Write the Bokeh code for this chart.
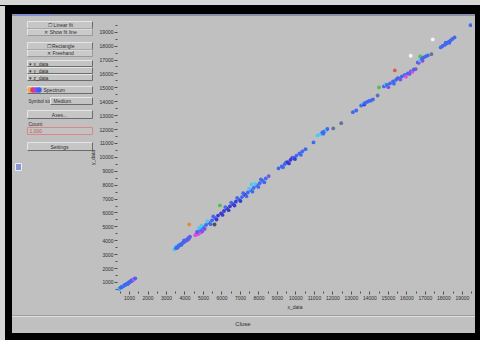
from bokeh.plotting import figure
from bokeh.models import Range1d, FixedTicker, ColumnDataSource, Div
from bokeh.layouts import column, row
from bokeh.embed import file_html
from bokeh.resources import INLINE
from bokeh.core.properties import value
from bokeh.transform import factor_cmap

# ---------------- data ----------------
# colour class of each point (z): b blue, d deep blue, c cyan, m magenta, p purple,
# g green, r red, o orange, w white, s slate, k dark grey
x_vals = [
    # cluster near the origin
    400, 440, 480, 520, 560, 600, 640, 680, 700, 720, 760, 800, 840, 880, 900, 920, 960,
    1000, 1040, 1080, 1100, 1120, 1160, 1200, 1240, 1280, 1310,
    # second cluster
    3420, 3470, 3500, 3520, 3570, 3600, 3620, 3650, 3670, 3720, 3770, 3800, 3820, 3870,
    3920, 3950, 3970, 4020, 4070, 4100, 4120, 4170, 4200, 4220, 4250, 4270,
    4230, 5600,
    # long dense band
    4560, 4600, 4650, 4700, 4750, 4850, 4900, 4950, 5070,
    4660, 4820, 4980, 5140, 5300, 5460, 5620, 5790, 5950, 6110, 6270, 6430, 6590, 6750,
    6910, 7080, 7240, 7400, 7560, 7720, 7880, 8040, 8200, 8370, 8530,
    5390, 5710, 6030, 6360, 6680, 7000, 7330, 7650, 7970, 8290,
    4760, 4890, 5210, 5530, 5890, 6180, 6500, 6820, 7150, 7470, 7600, 7790, 8110,
    # cluster around 10000
    9060, 9230, 9300, 9390, 9470, 9550, 9620, 9710, 9800, 9870, 9950, 10030, 10190,
    10270, 10350, 10520,
    10950, 11160, 11320, 11430, 11480, 11540, 11650, 11700, 12020, 12450,
    # cluster around 13500
    13080, 13260, 13530, 13630, 13700, 13740, 13850, 13960, 14060, 14170,
    14420, 14490,
    # cluster around 15500
    14760, 14850, 14920, 15000, 15090, 15250, 15300, 15410, 15500, 15570, 15650, 15730,
    15890, 15950, 16050, 16150, 16210, 16300, 16380,
    15350, 16480, 16210,
    # cluster around 17000
    16590, 16650, 16700, 16720, 16810, 16850, 16910, 17020, 17130,
    17330, 17400,
    # cluster around 18200
    17830, 17930, 18040, 18100, 18150, 18260, 18300, 18360, 18470, 18580,
    19440,
]
y_vals = [
    500, 560, 580, 620, 660, 690, 720, 760, 820, 790, 830, 850, 890, 920, 880, 950, 1000,
    1020, 1060, 1090, 1150, 1130, 1160, 1200, 1230, 1270, 1300,
    3380, 3440, 3560, 3470, 3540, 3500, 3580, 3720, 3640, 3680, 3740, 3700, 3780, 3840,
    3880, 4020, 3940, 3990, 4050, 4020, 4100, 4150, 4120, 4220, 4300, 4280,
    5170, 5170,
    4400, 4450, 4600, 4480, 4520, 4600, 4640, 4700, 4860,
    4630, 4800, 4970, 5140, 5300, 5470, 5640, 5810, 5970, 6140, 6310, 6480, 6640, 6810,
    6970, 7140, 7310, 7480, 7640, 7810, 7980, 8140, 8310, 8480, 8650,
    5190, 5530, 5860, 6200, 6530, 6860, 7200, 7530, 7870, 8200,
    4920, 5080, 5410, 5750, 6540, 6420, 6750, 7080, 7420, 7750, 8050, 8090, 8420,
    9200, 9350, 9280, 9510, 9640, 9660, 9560, 9820, 9960, 9970, 9880, 10130, 10280,
    10180, 10430, 10590,
    11070, 11580, 11650, 11790, 11700, 11860, 11940, 12040, 12080, 12460,
    13250, 13370, 13730, 13880, 13800, 13910, 13990, 14060, 14090, 14170,
    14450, 15030,
    15100, 15250, 15210, 15050, 15320, 15460, 15300, 15570, 15700, 15680, 15600, 15820,
    15930, 15800, 16040, 16000, 16180, 16150, 16320,
    16250, 16350, 17310,
    16830, 16800, 16970, 17260, 17080, 16950, 17190, 17260, 17330,
    17420, 18480,
    17910, 18010, 18090, 18250, 18190, 18300, 18240, 18410, 18520, 18630,
    19510,
]
z_vals = (
    list("cbcbbbbbcbbbbbbbbbbbbbpbmmb")
    + list("cccbbbbcbbbbbbbbbbbpbbpbmb")
    + list("ok")
    + list("mmmmmmmpp")
    + list("bbbbbbbdddddddbbdbbbbbbbp")
    + list("bdddddbbbb")
    + list("cccbgbbbbcccb")
    + list("bbbbbddddbdbbbbb")
    + list("bccbbbcbss")
    + list("bbbcdbbbbb")
    + list("sg")
    + list("bcbpbbbbbbpbbmbpbmb")
    + list("rpw")
    + list("bpcgbpbbb")
    + list("sw")
    + list("bbbbbbbbbb")
    + list("b")
)
z_levels = ["b", "d", "c", "m", "p", "g", "r", "o", "w", "s", "k"]
z_palette = ["#4068f0", "#3a3ad2", "#50c8f0", "#e048e8", "#8050e0", "#50c050",
             "#e05a40", "#e08a50", "#f6f6f6", "#6070a0", "#505058"]

x_ticks = [1000, 2000, 3000, 4000, 5000, 6000, 7000, 8000, 9000, 10000,
           11000, 12000, 13000, 14000, 15000, 16000, 17000, 18000, 19000]
x_tick_labels = ["1000", "2000", "3000", "4000", "5000", "6000", "7000", "8000", "9000",
                 "10000", "11000", "12000", "13000", "14000", "15000", "16000", "17000",
                 "18000", "19000"]
x_minor = [500, 1500, 2500, 3500, 4500, 5500, 6500, 7500, 8500, 9500, 10500, 11500,
           12500, 13500, 14500, 15500, 16500, 17500, 18500, 19500]
y_ticks = x_ticks
y_tick_labels = x_tick_labels
y_minor = x_minor

x_title = "x_data"
y_title = "y_data"

# ---------------- styling ----------------
GRAY = "#c0c0c0"
EDGE = "#d6d6d6"
FONT = "Liberation Sans"
TXT = "#2e2e2e"


def rect_html(l, t, w, h, c):
    return (f'<div style="position:absolute;left:{l}px;top:{t}px;width:{w}px;'
            f'height:{h}px;background:{c}"></div>')


def panel_div(w, h, parts, host=None):
    html = (f'<div style="position:relative;width:{w}px;height:{h}px;overflow:hidden;'
            f'background:transparent;margin:0;padding:0">' + "".join(parts) + "</div>")
    st = {"padding": "0", "margin": "0", "background": GRAY, "overflow": "hidden"}
    if host:
        st.update(host)
    return Div(text=html, width=w, height=h, margin=0, styles=st)


def label(f, x, y, t, align="center", size="5px", color=TXT, angle=0):
    f.text(x=[x], y=[y], text=[t], text_font=value(FONT), text_font_size=value(size),
           text_color=color, text_align=align, text_baseline="middle", angle=angle)


def box(f, x0, x1, y0, y1, fill="#c6c6c6", light="#e6e6e6", dark="#6c6c6c"):
    f.quad(left=x0, right=x1, top=y0, bottom=y1, fill_color=fill, line_color=None)
    f.segment(x0=[x0, x0], y0=[y0, y0], x1=[x1, x0], y1=[y0, y1], line_color=light, line_width=1)
    f.segment(x0=[x0, x1], y0=[y1, y0], x1=[x1, x1], y1=[y1, y1], line_color=dark, line_width=1)


# ---- top strip: window edge (host border) on a black band, then the title line ----
top = panel_div(480, 11, [
    rect_html(0, 0, 5, 11, EDGE),
    rect_html(12, 8, 463, 2, "#8a90a8"),
    rect_html(17, 8, 36, 3, "#7f8fd2"),
    rect_html(12, 10, 463, 1, GRAY),
], host={"background": "#000000", "border-top": f"5px solid {EDGE}",
         "box-sizing": "content-box", "height": "11px"})

# ---- left window edge / right window edge ----
edge_l = panel_div(12, 297, [rect_html(0, 0, 5, 297, EDGE), rect_html(5, 0, 7, 297, "#000000")])
edge_r = panel_div(8, 297, [rect_html(3, 0, 5, 297, "#000000")])

# ---- left control panel (ref pixel coordinates) ----
left = figure(width=84, height=297, x_range=Range1d(12, 96), y_range=Range1d(291, 17),
              x_axis_type=None, y_axis_type=None, toolbar_location=None,
              output_backend="svg", background_fill_color=GRAY, border_fill_color=GRAY,
              outline_line_color=None, min_border_left=0, min_border_right=0,
              min_border_top=1, min_border_bottom=22)
left.xgrid.visible = False
left.ygrid.visible = False
box(left, 27, 92, 21, 28)
label(left, 60, 24.5, "\u2610 Linear fit")
box(left, 27, 92, 28.5, 35, fill="#cacaca", dark="#9a9a9a")
label(left, 60, 31.8, "\u2715 Show fit line")
box(left, 27, 92, 42, 49)
label(left, 60, 45.5, "\u2610 Rectangle")
box(left, 27, 92, 49.5, 56, fill="#cacaca", dark="#9a9a9a")
label(left, 60, 52.8, "\u2715 Freehand")
for yy, t in [(63, "x_data"), (70, "y_data"), (77, "z_data")]:
    box(left, 27, 92, yy - 3, yy + 3, fill="#c4c4c4")
    label(left, 28.5, yy, "\u25be " + t, align="left")
box(left, 27, 92, 86, 93, fill="#c4c4c4")
left.scatter(x=[29.5, 32.5, 35.5, 38.5], y=[89.5, 89.5, 89.5, 89.5], size=5.5,
             fill_color=["#f0b030", "#e03a70", "#b040e0", "#3a60f0"], line_color=None)
label(left, 43, 89.5, "Spectrum", align="left")
label(left, 28, 100.5, "Symbol size:", align="left", size="4.6px")
box(left, 50, 92, 97, 104, fill="#c4c4c4")
label(left, 53, 100.5, "Medium", align="left")
box(left, 27, 92, 110, 118)
label(left, 59, 114, "Axes...")
label(left, 28, 123, "Count:", align="left")
left.quad(left=27, right=92, top=127, bottom=134, fill_color="#c6c2c2",
          line_color="#d88888", line_width=1)
label(left, 29, 130.5, "1,000", align="left", color="#b06060")
box(left, 27, 92, 142, 150)
label(left, 59, 146, "Settings")
left.quad(left=15, right=21, top=163, bottom=170, fill_color="#8898cc", line_color="#e8ecff")
label(left, 92.5, 157, y_title, angle=1.5708)

# ---- scatter plot ----
src = ColumnDataSource(dict(x=x_vals, y=y_vals, z=z_vals))
p = figure(width=376, height=297, x_range=Range1d(350, 19550), y_range=Range1d(350, 20060),
           toolbar_location=None, output_backend="svg", background_fill_color=GRAY,
           border_fill_color=GRAY, outline_line_color=None,
           min_border_left=19, min_border_right=0, min_border_top=1, min_border_bottom=22)
p.xgrid.visible = False
p.ygrid.visible = False
p.scatter(x="x", y="y", source=src, size=3.8, line_color=None,
          fill_color=factor_cmap("z", z_palette, z_levels))

p.xaxis.ticker = FixedTicker(ticks=x_ticks, minor_ticks=x_minor)
p.yaxis.ticker = FixedTicker(ticks=y_ticks, minor_ticks=y_minor)
p.xaxis.major_label_overrides = dict(zip(x_ticks, x_tick_labels))
p.yaxis.major_label_overrides = dict(zip(y_ticks, y_tick_labels))
p.xaxis.axis_label = x_title
for ax in (p.xaxis[0], p.yaxis[0]):
    ax.axis_line_color = None
    ax.major_tick_line_color = "#505050"
    ax.minor_tick_line_color = "#505050"
    ax.major_tick_out = 3
    ax.major_tick_in = 0
    ax.minor_tick_out = 2
    ax.minor_tick_in = 0
    ax.major_label_text_font = FONT
    ax.major_label_text_font_size = "5px"
    ax.major_label_text_color = TXT
    ax.major_label_standoff = 1
    ax.axis_label_text_font = FONT
    ax.axis_label_text_font_size = "5px"
    ax.axis_label_text_font_style = "normal"
    ax.axis_label_text_color = TXT
    ax.axis_label_standoff = 1

# ---- bottom bar with Close button ----
bottom = panel_div(480, 27, [
    rect_html(0, 0, 5, 27, EDGE),
    rect_html(5, 0, 7, 27, "#000000"),
    rect_html(475, 0, 5, 27, "#000000"),
    rect_html(5, 20, 475, 7, "#000000"),
    rect_html(12, 2, 463, 1, "#9c9c9c"),
    rect_html(12, 3, 463, 1, "#e0e0e0"),
    '<div style="position:absolute;left:213px;top:7px;width:60px;height:8px;'
    f'text-align:center;font-family:{FONT};font-size:6px;line-height:8px;color:{TXT}">Close</div>',
])

middle = row(edge_l, left, p, edge_r, styles={"background": GRAY})
layout = column(top, middle, bottom, styles={"background": GRAY})
open("out.html", "w").write(file_html(layout, INLINE))
